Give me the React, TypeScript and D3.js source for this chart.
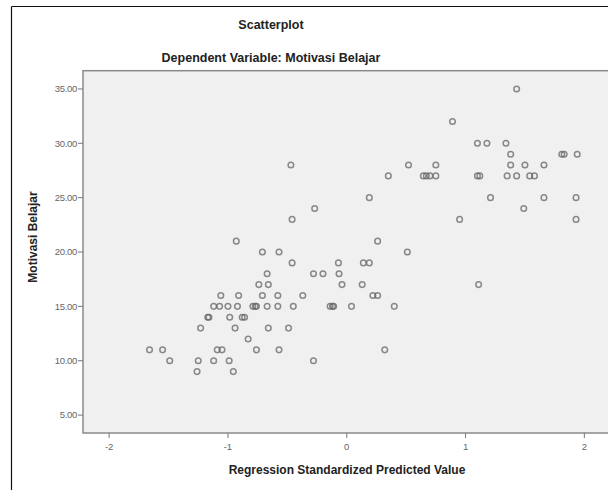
import React from "react";
import { scaleLinear } from "d3";

// Regression Standardized Predicted Value (x) and Motivasi Belajar (y)
const predicted = [
  1.43,
  0.89,
  1.1, 1.18, 1.34,
  1.38, 1.81, 1.83, 1.94,
  -0.47, 0.52, 0.75, 1.38, 1.5, 1.66,
  0.35, 0.645, 0.67, 0.7, 0.75, 1.1, 1.12, 1.35, 1.43, 1.54, 1.58,
  0.19, 1.21, 1.66, 1.93,
  -0.27, 1.49,
  -0.46, 0.95, 1.93,
  -0.93, 0.26,
  -0.71, -0.57, 0.51,
  -0.46, -0.07, 0.14, 0.19,
  -0.67, -0.28, -0.2, -0.065,
  -0.74, -0.66, -0.04, 0.13, 1.11,
  -1.06, -0.91, -0.71, -0.58, -0.37, 0.22, 0.26,
  -1.12, -1.07, -1.0, -0.92, -0.79, -0.77, -0.76, -0.67, -0.58, -0.45, -0.14, -0.12, -0.11, 0.04, 0.4,
  -1.17, -1.16, -0.985, -0.88, -0.86,
  -1.23, -0.94, -0.66, -0.49,
  -0.83,
  -1.66, -1.55, -1.09, -1.05, -0.76, -0.57, 0.32,
  -1.49, -1.25, -1.12, -0.99, -0.28,
  -1.26, -0.955,
];
const motivasi = [
  35,
  32,
  30, 30, 30,
  29, 29, 29, 29,
  28, 28, 28, 28, 28, 28,
  27, 27, 27, 27, 27, 27, 27, 27, 27, 27, 27,
  25, 25, 25, 25,
  24, 24,
  23, 23, 23,
  21, 21,
  20, 20, 20,
  19, 19, 19, 19,
  18, 18, 18, 18,
  17, 17, 17, 17, 17,
  16, 16, 16, 16, 16, 16, 16,
  15, 15, 15, 15, 15, 15, 15, 15, 15, 15, 15, 15, 15, 15, 15,
  14, 14, 14, 14, 14,
  13, 13, 13, 13,
  12,
  11, 11, 11, 11, 11, 11, 11,
  10, 10, 10, 10, 10,
  9, 9,
];

const xTicks = [-2, -1, 0, 1, 2];
const yTicks = [5, 10, 15, 20, 25, 30, 35];

const W = 608;
const H = 490;
const left = 83;
const right = 620;
const top = 70.7;
const bottom = 433;

export default function App() {
  const x = scaleLinear().domain([-2.22, 2.3]).range([left, right]);
  const y = scaleLinear().domain([3.35, 36.68]).range([bottom, top]);
  const font = "'Liberation Sans', Arial, sans-serif";

  return (
    <svg
      width={W}
      height={H}
      style={{ position: "absolute", left: 0, top: 0, background: "#fff" }}
    >
      {/* outer chart frame */}
      <line x1={11.5} y1={6.5} x2={W} y2={6.5} stroke="#111" strokeWidth={1.2} />
      <line x1={11.5} y1={6.5} x2={11.5} y2={H} stroke="#111" strokeWidth={1.2} />

      <text x={271} y={29} textAnchor="middle" fontFamily={font} fontWeight="bold" fontSize={12.5} fill="#222">
        Scatterplot
      </text>
      <text x={271} y={62} textAnchor="middle" fontFamily={font} fontWeight="bold" fontSize={12.5} fill="#222">
        Dependent Variable: Motivasi Belajar
      </text>

      <rect x={left} y={top} width={right - left} height={bottom - top} fill="#f0f0f0" stroke="#8a8a8a" strokeWidth={1.5} />

      {yTicks.map((t) => (
        <g key={"y" + t}>
          <line x1={left - 5} x2={left} y1={y(t)} y2={y(t)} stroke="#777" />
          <text x={left - 6} y={y(t)} dy="0.35em" textAnchor="end" fontFamily={font} fontSize={9.5} fill="#666" letterSpacing={-0.3}>
            {t.toFixed(2)}
          </text>
        </g>
      ))}

      {xTicks.map((t) => (
        <g key={"x" + t}>
          <line x1={x(t)} x2={x(t)} y1={bottom} y2={bottom + 5} stroke="#777" />
          <text x={x(t)} y={bottom + 17} textAnchor="middle" fontFamily={font} fontSize={9.5} fill="#666">
            {t}
          </text>
        </g>
      ))}

      <text
        transform={`translate(37, 237) rotate(-90)`}
        textAnchor="middle"
        fontFamily={font}
        fontWeight="bold"
        fontSize={12}
        fill="#222"
      >
        Motivasi Belajar
      </text>
      <text x={347} y={474} textAnchor="middle" fontFamily={font} fontWeight="bold" fontSize={12} fill="#222">
        Regression Standardized Predicted Value
      </text>

      {predicted.map((p, i) => (
        <circle
          key={i}
          cx={x(p)}
          cy={y(motivasi[i])}
          r={2.8}
          fill="none"
          stroke="#666"
          strokeOpacity={0.75}
          strokeWidth={1.5}
        />
      ))}
    </svg>
  );
}
